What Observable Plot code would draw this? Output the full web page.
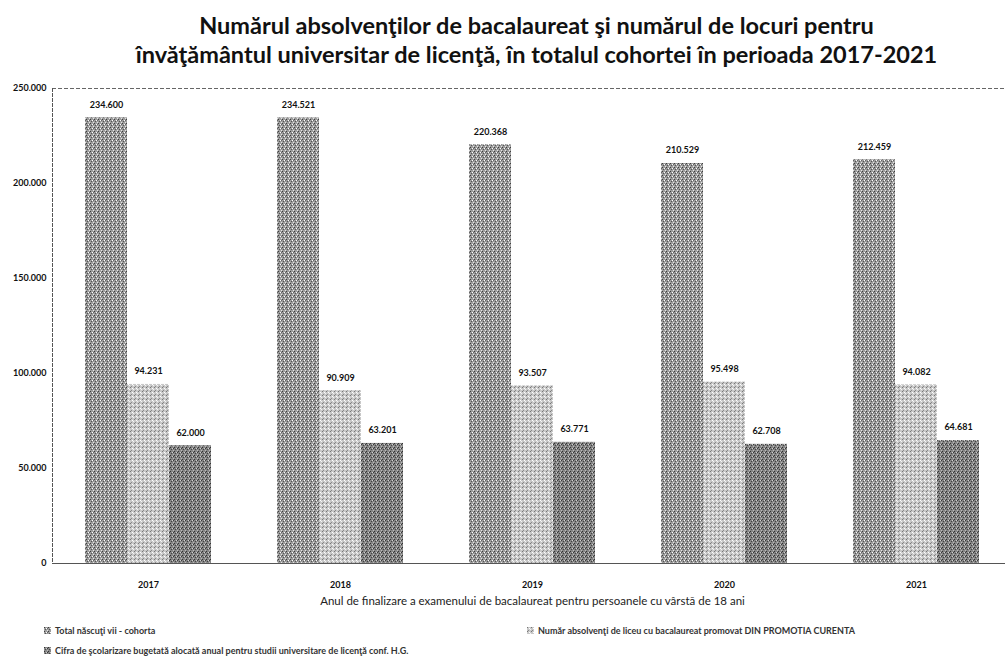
<!DOCTYPE html>
<html>
<head>
<meta charset="utf-8">
<script src="https://cdn.jsdelivr.net/npm/d3@7"></script>
<script src="https://cdn.jsdelivr.net/npm/@observablehq/plot@0.6"></script>
<style>
  body { margin: 0; background: #fff; width: 1005px; height: 661px; overflow: hidden; position: relative; font-family: Lato, "Open Sans", sans-serif; }
  #title { position: absolute; top: 11px; left: 34px; width: 1005px; text-align: center; font-weight: 700; font-size: 23.5px; line-height: 29px; color: #111; }
  #chart { position: absolute; top: 75px; left: 0; }
  .leg { position: absolute; font-size: 9px; font-weight: 700; color: #333; display: flex; align-items: center; white-space: nowrap; }
  .leg svg { margin-right: 4px; }
</style>
</head>
<body>
<svg width="0" height="0" style="position:absolute">
  <defs>
    <pattern id="p1" width="4" height="4" patternUnits="userSpaceOnUse">
      <rect width="4" height="4" fill="#9c9c9c"/>
      <rect x="0" y="0" width="1" height="1" fill="#3e3e3e"/>
      <rect x="2" y="1" width="1" height="1" fill="#ffffff"/>
      <rect x="1" y="2" width="1" height="1" fill="#555"/>
      <rect x="3" y="3" width="1" height="1" fill="#e6e6e6"/>
      <rect x="3" y="1" width="1" height="1" fill="#666"/>
    </pattern>
    <pattern id="p2" width="4" height="4" patternUnits="userSpaceOnUse">
      <rect width="4" height="4" fill="#c8c8c8"/>
      <rect x="0" y="0" width="1" height="1" fill="#777"/>
      <rect x="2" y="1" width="1" height="1" fill="#ffffff"/>
      <rect x="1" y="3" width="1" height="1" fill="#8a8a8a"/>
      <rect x="3" y="2" width="1" height="1" fill="#f4f4f4"/>
    </pattern>
    <pattern id="p3" width="4" height="4" patternUnits="userSpaceOnUse">
      <rect width="4" height="4" fill="#858585"/>
      <rect x="0" y="0" width="1" height="1" fill="#333"/>
      <rect x="2" y="1" width="1" height="1" fill="#d0d0d0"/>
      <rect x="1" y="2" width="1" height="1" fill="#444"/>
      <rect x="3" y="3" width="1" height="1" fill="#bbb"/>
      <rect x="3" y="1" width="1" height="1" fill="#3a3a3a"/>
    </pattern>
  </defs>
</svg>
<div id="title">Numărul absolvenţilor de bacalaureat şi numărul de locuri pentru<br>învăţământul universitar de licenţă, în totalul cohortei în perioada 2017-2021</div>
<div id="chart"></div>
<div class="leg" style="left:44px; top:625px;"><svg width="7" height="7"><rect width="7" height="7" fill="url(#p1)"/></svg><span id="l1"></span></div>
<div class="leg" style="left:527px; top:625px;"><svg width="7" height="7"><rect width="7" height="7" fill="url(#p2)"/></svg><span id="l2"></span></div>
<div class="leg" style="left:44px; top:645px;"><svg width="7" height="7"><rect width="7" height="7" fill="url(#p3)"/></svg><span id="l3"></span></div>
<script>
const years = ["2017", "2018", "2019", "2020", "2021"];
const seriesKeys = ["total", "absolventi", "cifra"];
const seriesNames = [
  "Total născuţi vii - cohorta",
  "Număr absolvenţi de liceu cu bacalaureat promovat DIN PROMOTIA CURENTA",
  "Cifra de şcolarizare bugetată alocată anual pentru studii universitare de licenţă conf. H.G."
];
const totalNascuti = [234600, 234521, 220368, 210529, 212459];
const absolventi = [94231, 90909, 93507, 95498, 94082];
const cifraScolarizare = [62000, 63201, 63771, 62708, 64681];
const yTicks = [0, 50000, 100000, 150000, 200000, 250000];
const xTitle = "Anul de finalizare a examenului de bacalaureat pentru persoanele cu vârstă de 18 ani";

const seriesValues = [totalNascuti, absolventi, cifraScolarizare];
const patterns = ["url(#p1)", "url(#p2)", "url(#p3)"];
const data = [];
years.forEach((yr, i) => seriesKeys.forEach((k, j) => data.push({year: yr, key: k, value: seriesValues[j][i]})));

const fmt = d3.formatLocale({decimal: ",", thousands: ".", grouping: [3], currency: ["", ""]}).format(",");

document.getElementById("l1").textContent = seriesNames[0];
document.getElementById("l2").textContent = seriesNames[1];
document.getElementById("l3").textContent = seriesNames[2];

const bars = seriesKeys.map((k, j) =>
  Plot.barY(data.filter(d => d.key === k), {fx: "year", x: "key", y: "value", fill: patterns[j]})
);

const chart = Plot.plot({
  width: 1005,
  height: 540,
  marginLeft: 50,
  marginRight: -8,
  marginTop: 13,
  marginBottom: 52,
  style: {fontFamily: "Lato, 'Open Sans', sans-serif", fontSize: "9px", color: "#111", background: "transparent", overflow: "visible"},
  fx: {domain: years, padding: 0, label: null},
  x: {domain: seriesKeys, paddingInner: 0, paddingOuter: 0.77, axis: null},
  y: {domain: [0, 250000], ticks: yTicks, label: null},
  marks: [
    ...bars,
    Plot.ruleY([0], {stroke: "#555", strokeWidth: 1}),
    Plot.ruleY([250000], {stroke: "#666", strokeWidth: 1, strokeDasharray: "4,2"}),
    Plot.frame({anchor: "left", facetAnchor: "left", stroke: "#555", strokeDasharray: "3,2"}),
    Plot.text(data, {fx: "year", x: "key", y: "value", text: d => fmt(d.value), dy: -13, fontWeight: 700, fontSize: 9, fill: "#111"}),
    Plot.axisY({ticks: yTicks, tickFormat: fmt, tickSize: 0, tickPadding: 6, fontWeight: 700, fontSize: 9, label: null}),
    Plot.axisFx({anchor: "bottom", tickSize: 0, tickPadding: 18, fontWeight: 700, fontSize: 9, label: null}),
    Plot.text([xTitle], {frameAnchor: "bottom", dy: 41, fontSize: 11.5, fill: "#222", facetAnchor: "bottom", fx: () => "2019", text: d => d})
  ]
});
document.getElementById("chart").appendChild(chart);
</script>
</body>
</html>
